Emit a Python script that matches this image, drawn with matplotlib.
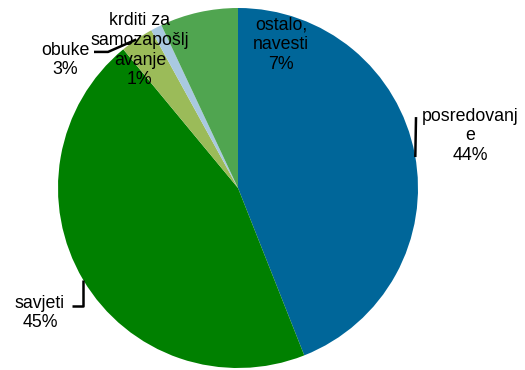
import matplotlib.pyplot as plt

labels = ["posredovanj\ne", "savjeti", "obuke", "krditi za\nsamozapošlj\navanje", "ostalo,\nnavesti"]
values = [44, 45, 3, 1, 7]
colors = ["#006699", "#008000", "#9BBB59", "#A9C9E0", "#50A550"]

plt.rcParams['font.family'] = ['Liberation Sans', 'DejaVu Sans']

fig = plt.figure(figsize=(5.25, 3.7), dpi=100)
ax = fig.add_axes([58 / 525, 2 / 370, 360 / 525, 360 / 370])
ax.pie(values, colors=colors, startangle=90, counterclock=False,
       wedgeprops=dict(linewidth=0))
ax.set_xlim(-1, 1)
ax.set_ylim(-1, 1)
ax.set_aspect('equal')
ax.axis('off')

# label positions in data units (radius = 1)
pos = [(1.29, 0.29), (-1.10, -0.695), (-0.96, 0.71), (-0.545, 0.765), (0.24, 0.795)]
for lab, v, (x, y) in zip(labels, values, pos):
    ax.text(x, y, f"{lab}\n{v}%", ha='center', va='center', fontsize=12.8,
            linespacing=1.2, clip_on=False)

# leader lines
kw = dict(color='black', lw=1.8, clip_on=False, solid_capstyle='butt')
ax.plot([0.989, 0.985], [0.394, 0.172], **kw)
ax.plot([-0.922, -0.862, -0.862], [-0.656, -0.656, -0.51], **kw)
ax.plot([-0.80, -0.722, -0.565], [0.756, 0.756, 0.825], **kw)

fig.savefig("out.png", dpi=100)
